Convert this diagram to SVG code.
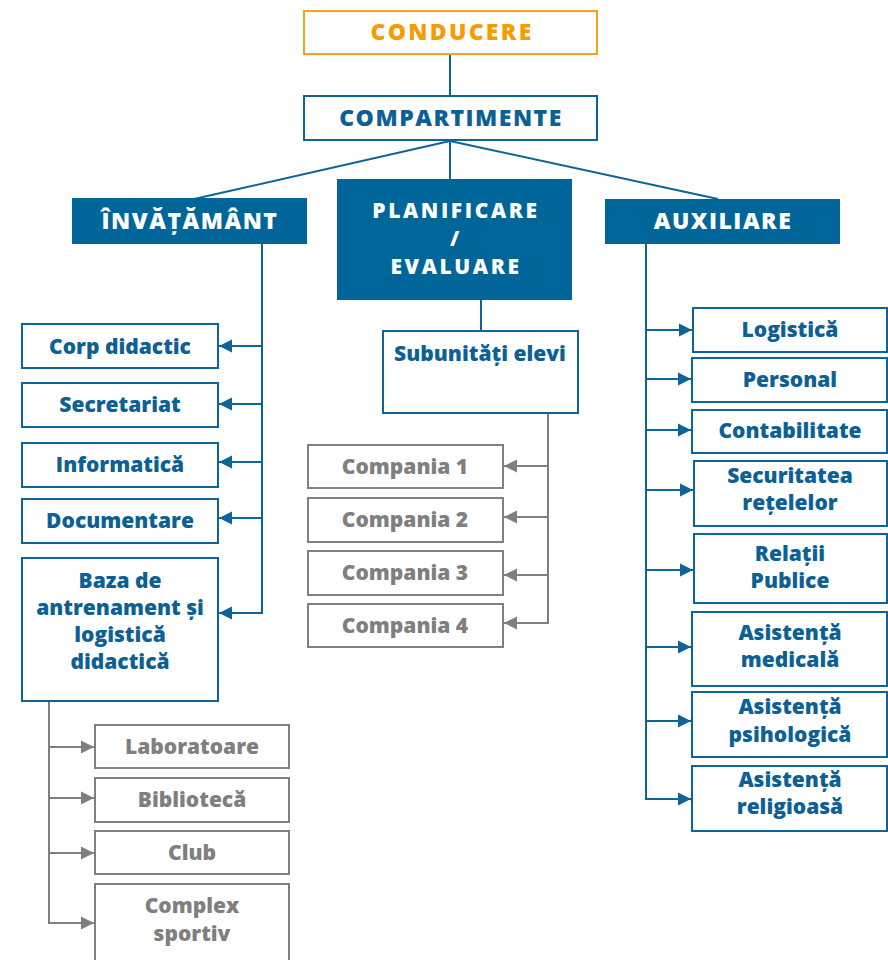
<svg xmlns="http://www.w3.org/2000/svg" width="888" height="960" viewBox="0 0 888 960">
<defs>
<style>
text{font-family:"Open Sans",Lato,"Liberation Sans",sans-serif;font-weight:800;font-size:21px;text-anchor:middle}
text.cap{font-size:23px;letter-spacing:1.5px}
text.cap2{font-size:21px;letter-spacing:2.6px}
.bx{fill:#fff;stroke:#0D6496;stroke-width:2}
.gx{fill:#fff;stroke:#808080;stroke-width:2}
.hd{fill:#006699;stroke:none}
.bt{fill:#0D6094}
.gt{fill:#7F7F7F}
.wt{fill:#fff}
.bl{stroke:#0D6496;stroke-width:2;fill:none}
.gl{stroke:#7F7F7F;stroke-width:2;fill:none}
</style>
<marker id="ab" markerUnits="userSpaceOnUse" markerWidth="14" markerHeight="14" refX="13" refY="7" orient="auto"><path d="M0,0.5 L13,7 L0,13.5 Z" fill="#0D6496"/></marker>
<marker id="ag" markerUnits="userSpaceOnUse" markerWidth="14" markerHeight="14" refX="13" refY="7" orient="auto"><path d="M0,0.5 L13,7 L0,13.5 Z" fill="#7F7F7F"/></marker>
</defs>
<rect width="888" height="960" fill="#fff"/>
<g id="connectors">
<line class="bl" x1="450" y1="54" x2="450" y2="96"/>
<line class="bl" x1="450" y1="141" x2="194" y2="199"/>
<line class="bl" x1="450" y1="141" x2="450" y2="180"/>
<line class="bl" x1="450" y1="141" x2="718" y2="199"/>
<line class="bl" x1="262" y1="244" x2="262" y2="614"/>
<line class="bl" x1="263" y1="346" x2="219" y2="346" marker-end="url(#ab)"/>
<line class="bl" x1="263" y1="404" x2="219" y2="404" marker-end="url(#ab)"/>
<line class="bl" x1="263" y1="462" x2="219" y2="462" marker-end="url(#ab)"/>
<line class="bl" x1="263" y1="518" x2="219" y2="518" marker-end="url(#ab)"/>
<line class="bl" x1="263" y1="613" x2="219" y2="613" marker-end="url(#ab)"/>
<line class="bl" x1="481" y1="300" x2="481" y2="331"/>
<line class="gl" x1="548" y1="413" x2="548" y2="624"/>
<line class="gl" x1="549" y1="466" x2="504" y2="466" marker-end="url(#ag)"/>
<line class="gl" x1="549" y1="517" x2="504" y2="517" marker-end="url(#ag)"/>
<line class="gl" x1="549" y1="575" x2="504" y2="575" marker-end="url(#ag)"/>
<line class="gl" x1="549" y1="623" x2="504" y2="623" marker-end="url(#ag)"/>
<line class="bl" x1="646" y1="244" x2="646" y2="800"/>
<line class="bl" x1="645" y1="330" x2="692" y2="330" marker-end="url(#ab)"/>
<line class="bl" x1="645" y1="379" x2="691" y2="379" marker-end="url(#ab)"/>
<line class="bl" x1="645" y1="430" x2="691" y2="430" marker-end="url(#ab)"/>
<line class="bl" x1="645" y1="490" x2="693" y2="490" marker-end="url(#ab)"/>
<line class="bl" x1="645" y1="570" x2="693" y2="570" marker-end="url(#ab)"/>
<line class="bl" x1="645" y1="647" x2="691" y2="647" marker-end="url(#ab)"/>
<line class="bl" x1="645" y1="721" x2="691" y2="721" marker-end="url(#ab)"/>
<line class="bl" x1="645" y1="799" x2="691" y2="799" marker-end="url(#ab)"/>
<line class="gl" x1="49" y1="701" x2="49" y2="924"/>
<line class="gl" x1="48" y1="747" x2="94" y2="747" marker-end="url(#ag)"/>
<line class="gl" x1="48" y1="798" x2="94" y2="798" marker-end="url(#ag)"/>
<line class="gl" x1="48" y1="853" x2="94" y2="853" marker-end="url(#ag)"/>
<line class="gl" x1="48" y1="923" x2="94" y2="923" marker-end="url(#ag)"/>
</g>
<g id="conducere"><rect x="304" y="11" width="293" height="43" fill="#fff" stroke="#F7A21E" stroke-width="2"/><text class="cap" x="452" y="40" fill="#F59C00" style="letter-spacing:2.3px">CONDUCERE</text></g>
<g id="compartimente"><rect class="bx" x="304" y="96" width="293" height="44"/><text class="cap bt" x="451" y="126">COMPARTIMENTE</text></g>
<g id="invatamant"><rect class="hd" x="72" y="198" width="235" height="46"/><text class="cap wt" x="190" y="229">ÎNVĂȚĂMÂNT</text></g>
<g id="planificare"><rect class="hd" x="337" y="179" width="235" height="121"/><text class="cap2 wt"><tspan x="456" y="218">PLANIFICARE</tspan><tspan x="456" y="246">/</tspan><tspan x="456" y="274">EVALUARE</tspan></text></g>
<g id="auxiliare"><rect class="hd" x="605" y="199" width="235" height="45"/><text class="cap wt" x="723" y="229">AUXILIARE</text></g>
<g id="corp"><rect class="bx" x="22" y="324" width="196" height="44"/><text class="bt" x="120" y="354">Corp didactic</text></g>
<g id="secretariat"><rect class="bx" x="22" y="383" width="196" height="44"/><text class="bt" x="120" y="412">Secretariat</text></g>
<g id="informatica"><rect class="bx" x="22" y="443" width="196" height="44"/><text class="bt" x="120" y="472">Informatică</text></g>
<g id="documentare"><rect class="bx" x="22" y="499" width="196" height="44"/><text class="bt" x="120" y="528">Documentare</text></g>
<g id="baza"><rect class="bx" x="22" y="558" width="196" height="143"/><text class="bt"><tspan x="120" y="588">Baza de</tspan><tspan x="120" y="615">antrenament și</tspan><tspan x="120" y="642">logistică</tspan><tspan x="120" y="669">didactică</tspan></text></g>
<g id="laboratoare"><rect class="gx" x="95" y="725" width="194" height="43"/><text class="gt" x="192" y="754">Laboratoare</text></g>
<g id="biblioteca"><rect class="gx" x="95" y="778" width="194" height="44"/><text class="gt" x="192" y="807">Bibliotecă</text></g>
<g id="club"><rect class="gx" x="95" y="831" width="194" height="43"/><text class="gt" x="192" y="860">Club</text></g>
<g id="complex"><rect class="gx" x="95" y="884" width="194" height="80"/><text class="gt"><tspan x="192" y="913">Complex</tspan><tspan x="192" y="941">sportiv</tspan></text></g>
<g id="subunitati"><rect class="bx" x="383" y="331" width="195" height="82"/><text class="bt" x="480" y="361">Subunități elevi</text></g>
<g id="compania1"><rect class="gx" x="308" y="445" width="195" height="43"/><text class="gt" x="405" y="474">Compania 1</text></g>
<g id="compania2"><rect class="gx" x="308" y="498" width="195" height="44"/><text class="gt" x="405" y="527">Compania 2</text></g>
<g id="compania3"><rect class="gx" x="308" y="551" width="195" height="44"/><text class="gt" x="405" y="580">Compania 3</text></g>
<g id="compania4"><rect class="gx" x="308" y="604" width="195" height="43"/><text class="gt" x="405" y="633">Compania 4</text></g>
<g id="logistica"><rect class="bx" x="693" y="308" width="194" height="44"/><text class="bt" x="790" y="337">Logistică</text></g>
<g id="personal"><rect class="bx" x="692" y="358" width="195" height="44"/><text class="bt" x="790" y="387">Personal</text></g>
<g id="contabilitate"><rect class="bx" x="692" y="410" width="195" height="43"/><text class="bt" x="790" y="438">Contabilitate</text></g>
<g id="securitatea"><rect class="bx" x="694" y="461" width="193" height="65"/><text class="bt"><tspan x="790" y="483">Securitatea</tspan><tspan x="790" y="510">rețelelor</tspan></text></g>
<g id="relatii"><rect class="bx" x="694" y="534" width="193" height="69"/><text class="bt"><tspan x="790" y="561">Relații</tspan><tspan x="790" y="588">Publice</tspan></text></g>
<g id="medicala"><rect class="bx" x="692" y="612" width="195" height="74"/><text class="bt"><tspan x="790" y="640">Asistență</tspan><tspan x="790" y="667">medicală</tspan></text></g>
<g id="psihologica"><rect class="bx" x="692" y="692" width="195" height="65"/><text class="bt"><tspan x="790" y="714">Asistență</tspan><tspan x="790" y="742">psihologică</tspan></text></g>
<g id="religioasa"><rect class="bx" x="692" y="766" width="195" height="65"/><text class="bt"><tspan x="790" y="787">Asistență</tspan><tspan x="790" y="814">religioasă</tspan></text></g>
</svg>
